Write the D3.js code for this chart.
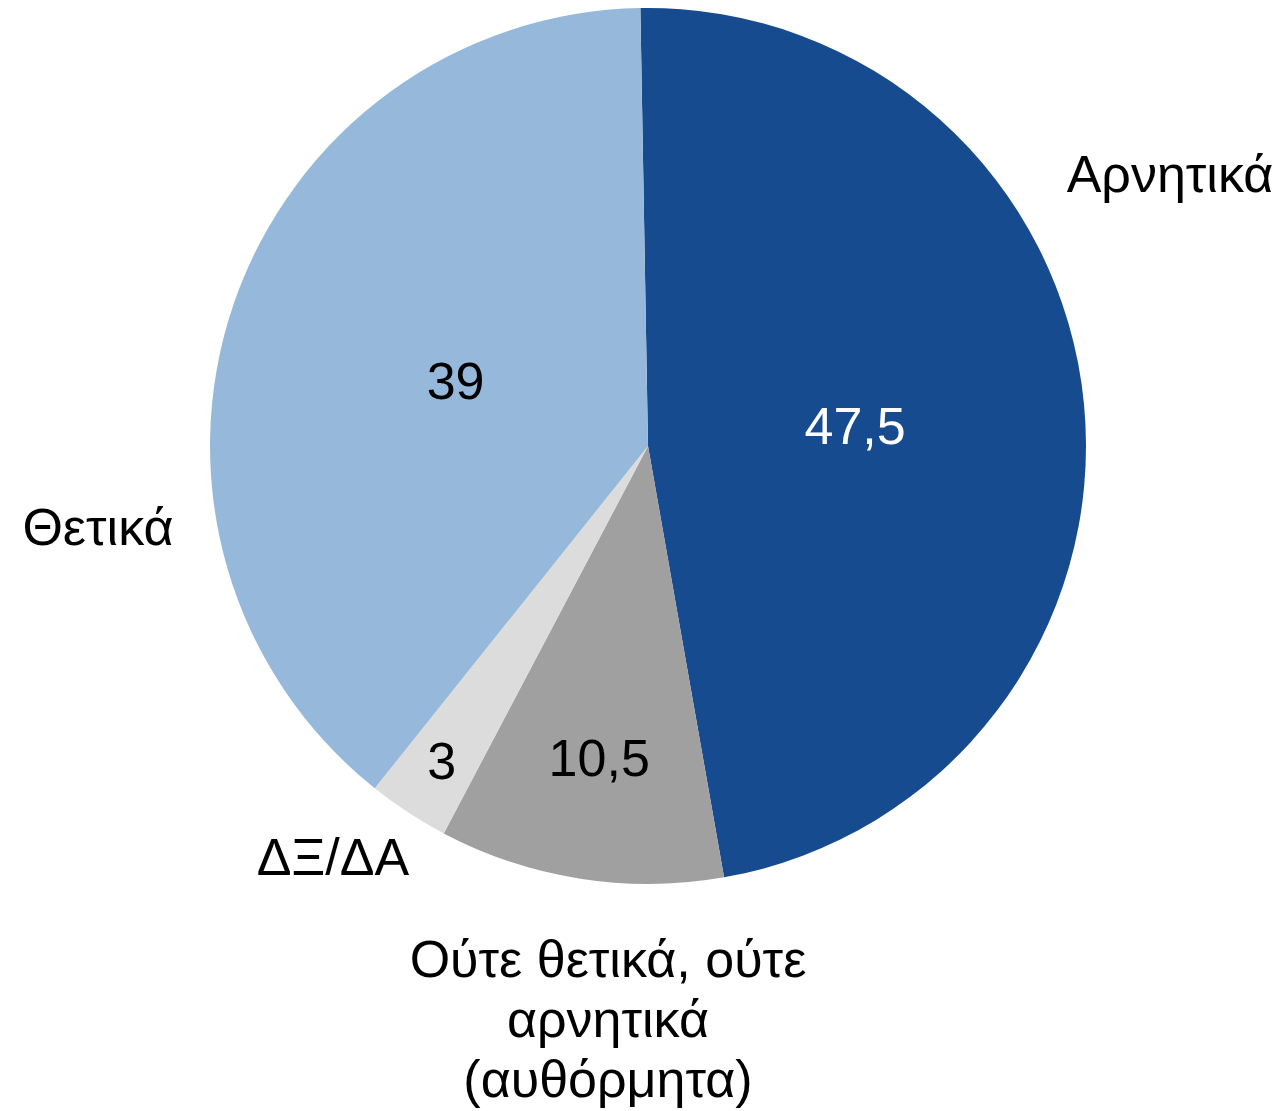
<!DOCTYPE html>
<html><head><meta charset="utf-8">
<script src="https://cdn.jsdelivr.net/npm/d3@7"></script>
<style>body{margin:0;background:#fff}svg{display:block}text{font-family:"Liberation Sans",Arial,sans-serif}</style>
</head><body>
<script>
const categories = ["Αρνητικά", "Ούτε θετικά, ούτε αρνητικά (αυθόρμητα)", "ΔΞ/ΔΑ", "Θετικά"];
const values = [47.5, 10.5, 3, 39];
const valueLabels = ["47,5", "10,5", "3", "39"];
const colors = ["#174b8f", "#a0a0a0", "#dcdcdc", "#96b9db"];
const valueColors = ["#ffffff", "#000000", "#000000", "#000000"];

const W = 1279, H = 1111;
const cx = 648, cy = 446, R = 438;
const svg = d3.select("body").append("svg").attr("width", W).attr("height", H);
const g = svg.append("g").attr("transform", `translate(${cx},${cy})`);

const offset = -1 * Math.PI / 180;
const pie = d3.pie().sort(null).value(d => d)
  .startAngle(offset).endAngle(2 * Math.PI + offset);
const arcs = pie(values);
const arc = d3.arc().innerRadius(0).outerRadius(R);

g.selectAll("path").data(arcs).enter().append("path")
  .attr("d", arc).attr("fill", (d, i) => colors[i]);

// value labels
const valueR = [0.475, 0.72, 0.86, 0.464];
g.selectAll("text.val").data(arcs).enter().append("text")
  .attr("class", "val")
  .attr("transform", (d, i) => {
    const a = (d.startAngle + d.endAngle) / 2;
    const r = R * valueR[i];
    return `translate(${Math.sin(a) * r},${-Math.cos(a) * r})`;
  })
  .attr("text-anchor", "middle").attr("dy", "0.35em")
  .attr("font-size", 52).attr("fill", (d, i) => valueColors[i])
  .text((d, i) => valueLabels[i]);

// category labels
const catLines = [["Αρνητικά"], ["Ούτε θετικά, ούτε", "αρνητικά", "(αυθόρμητα)"], ["ΔΞ/ΔΑ"], ["Θετικά"]];
const catPos = [[1170, 192], [608, 977], [333, 875], [98, 545]];
catLines.forEach((lines, i) => {
  const t = svg.append("text").attr("x", catPos[i][0]).attr("y", catPos[i][1])
    .attr("text-anchor", "middle").attr("font-size", 52).attr("fill", "#000");
  lines.forEach((l, j) => t.append("tspan").attr("x", catPos[i][0]).attr("dy", j === 0 ? 0 : 60).text(l));
});
</script>
</body></html>
